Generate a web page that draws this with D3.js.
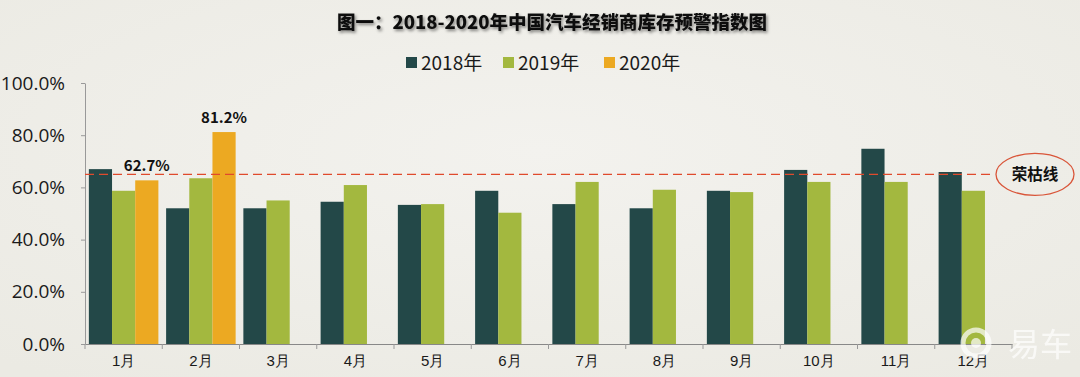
<!DOCTYPE html>
<html lang="zh">
<head>
<meta charset="UTF-8">
<script src="https://d3js.org/d3.v7.min.js"></script>
<style>
  body { margin: 0; background: #efeee8; }
  svg { display: block; font-family: "Noto Sans CJK SC", "Noto Sans", sans-serif; }
</style>
</head>
<body>
<div id="chart"></div>
<script>
// data
const months = ["1月","2月","3月","4月","5月","6月","7月","8月","9月","10月","11月","12月"];
const seriesNames = ["2018年","2019年","2020年"];
const v2018 = [67.0, 52.0, 52.0, 54.5, 53.3, 58.7, 53.6, 52.0, 58.7, 66.7, 74.8, 65.9];
const v2019 = [58.7, 63.5, 55.0, 60.9, 53.6, 50.3, 62.1, 59.1, 58.2, 62.1, 62.1, 58.7];
const v2020 = [62.7, 81.2];
const yTicks = [0, 20, 40, 60, 80, 100];
const boomLine = 65;
const colors = ["#234848", "#a3b83f", "#eca922"];

const W = 1080, H = 377;
const margin = {top: 83, right: 68, bottom: 33, left: 85};
const width = W - margin.left - margin.right;
const height = H - margin.top - margin.bottom;

const svg = d3.select("#chart").append("svg")
    .attr("width", W).attr("height", H);

// background
const grad = svg.append("defs").append("radialGradient")
    .attr("id", "bg").attr("cx", "50%").attr("cy", "40%").attr("r", "75%");
grad.append("stop").attr("offset", "0%").attr("stop-color", "#f3f2ee");
grad.append("stop").attr("offset", "100%").attr("stop-color", "#ebeae3");
svg.append("rect").attr("width", W).attr("height", H).attr("fill", "url(#bg)");

const shadow = svg.select("defs").append("filter").attr("id", "shadow")
    .attr("x", "-5%").attr("y", "-30%").attr("width", "110%").attr("height", "160%");
shadow.append("feDropShadow").attr("dx", 1.5).attr("dy", 2).attr("stdDeviation", 1.5)
    .attr("flood-color", "#000").attr("flood-opacity", 0.45);

// title
svg.append("text")
    .attr("x", 552).attr("y", 29)
    .attr("text-anchor", "middle")
    .attr("font-size", 18.5).attr("font-weight", 900)
    .attr("fill", "#111")
    .attr("filter", "url(#shadow)")
    .text("图一：2018-2020年中国汽车经销商库存预警指数图");

// legend
const legendX = [406, 503, 604];
seriesNames.forEach((name, i) => {
  svg.append("rect").attr("x", legendX[i]).attr("y", 57)
      .attr("width", 11).attr("height", 11).attr("fill", colors[i]);
  svg.append("text").attr("x", legendX[i] + 15).attr("y", 69.5)
      .attr("font-size", 19).attr("fill", "#1a1a1a").text(name);
});

const g = svg.append("g").attr("transform", `translate(${margin.left},${margin.top})`);

const x = d3.scaleBand().domain(months).range([0, width]).paddingInner(0.1).paddingOuter(0.05);
const xTick = d3.scaleBand().domain(months).range([0, width]);
const xSub = d3.scaleBand().domain(seriesNames).range([0, x.bandwidth()]);
const y = d3.scaleLinear().domain([0, 100]).range([height, 0]);

// y axis
const yAxis = g.append("g")
    .call(d3.axisLeft(y).tickValues(yTicks).tickSize(4).tickSizeOuter(0)
      .tickFormat(d => d.toFixed(1) + "%"));
yAxis.select(".domain").attr("stroke", "#999");
yAxis.selectAll(".tick line").attr("stroke", "#999");
yAxis.selectAll(".tick text").attr("font-size", 19).attr("fill", "#1a1a1a")
    .attr("x", -20).attr("font-family", "'Open Sans', 'Noto Sans', sans-serif");

// bars
const sets = [v2018, v2019, v2020];
sets.forEach((vals, si) => {
  g.append("g").selectAll("rect")
    .data(vals)
    .join("rect")
      .attr("x", (d, i) => x(months[i]) + xSub(seriesNames[si]))
      .attr("y", d => y(d))
      .attr("width", xSub.bandwidth())
      .attr("height", d => height - y(d))
      .attr("fill", colors[si]);
});

// x axis
const xAxis = g.append("g").attr("transform", `translate(0,${height})`)
    .call(d3.axisBottom(xTick).tickSize(0).tickSizeOuter(0));
xAxis.select(".domain").attr("stroke", "#888").attr("stroke-width", 1.2);
xAxis.selectAll(".tick text").attr("font-size", 15).attr("fill", "#1a1a1a")
    .attr("font-weight", 500).attr("dy", "1.25em");
g.append("g").selectAll("line")
  .data(months.map((m, i) => i).concat([months.length]))
  .join("line")
    .attr("x1", i => i < months.length ? xTick(months[i]) : width)
    .attr("x2", i => i < months.length ? xTick(months[i]) : width)
    .attr("y1", height).attr("y2", height + 5)
    .attr("stroke", "#999");

// value labels on 2020 bars
g.append("g").selectAll("text")
  .data(v2020)
  .join("text")
    .attr("x", (d, i) => x(months[i]) + xSub("2020年") + xSub.bandwidth() / 2)
    .attr("y", d => y(d) - 9)
    .attr("text-anchor", "middle")
    .attr("font-size", 15).attr("font-weight", "bold").attr("fill", "#111")
    .text(d => d.toFixed(1) + "%");

// boom-bust line
g.append("line")
    .attr("x1", 0).attr("x2", 908)
    .attr("y1", y(boomLine)).attr("y2", y(boomLine))
    .attr("stroke", "#e04a2c").attr("stroke-width", 1.2)
    .attr("stroke-dasharray", "9,5");
g.append("ellipse")
    .attr("cx", 950).attr("cy", y(boomLine))
    .attr("rx", 39).attr("ry", 21)
    .attr("fill", "none").attr("stroke", "#d9563a").attr("stroke-width", 1.3);
g.append("text")
    .attr("x", 950).attr("y", y(boomLine) + 5.5)
    .attr("text-anchor", "middle")
    .attr("font-size", 15.5).attr("font-weight", "bold").attr("fill", "#111")
    .text("荣枯线");

// watermark
const wm = svg.append("g").attr("opacity", 0.7);
wm.append("circle").attr("cx", 976).attr("cy", 343).attr("r", 13)
    .attr("fill", "none").attr("stroke", "#fff").attr("stroke-width", 5);
wm.append("circle").attr("cx", 976).attr("cy", 343).attr("r", 5).attr("fill", "#fff");
wm.append("text").attr("x", 1008).attr("y", 356)
    .attr("font-size", 32).attr("fill", "#fff").text("易车");
</script>
</body>
</html>
